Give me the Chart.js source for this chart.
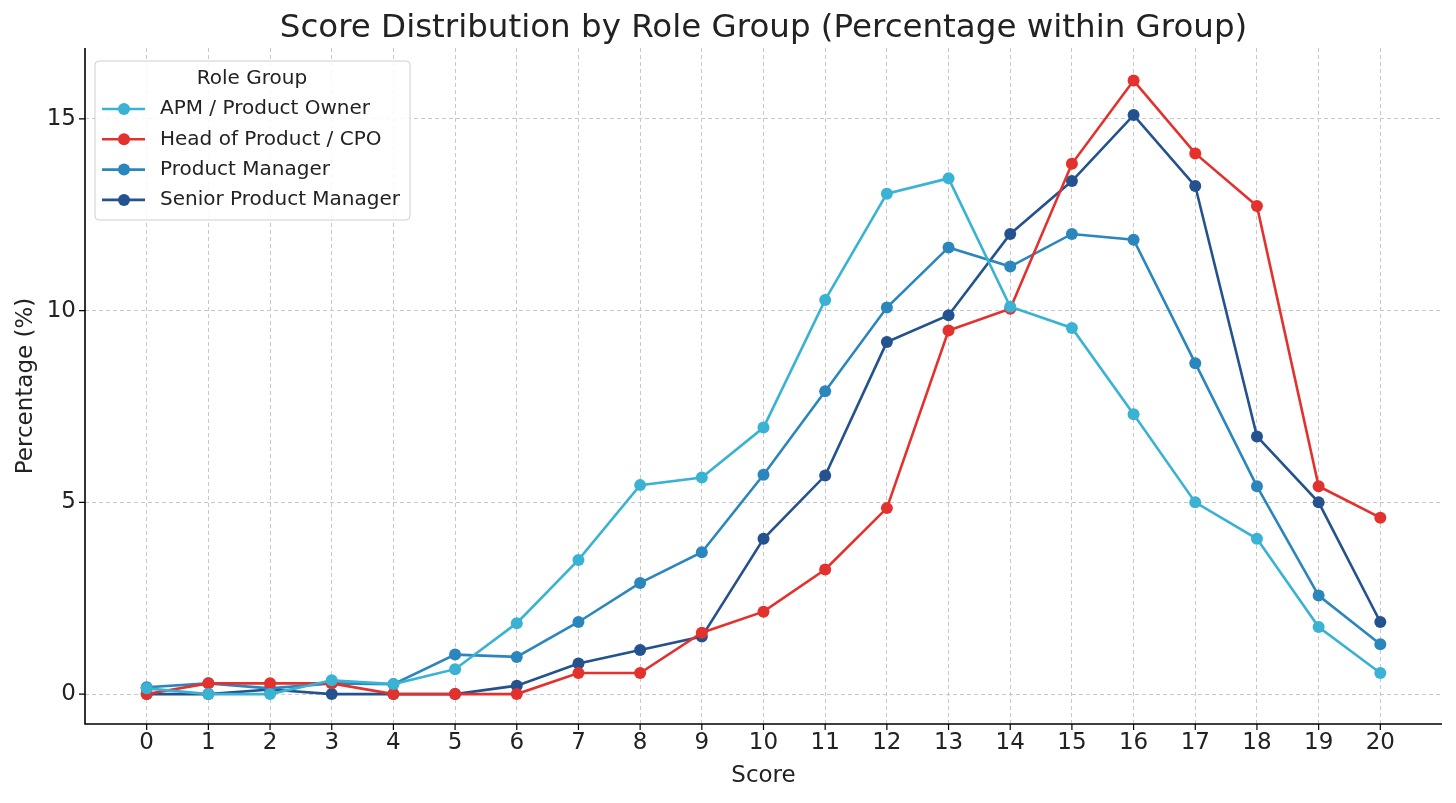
<!DOCTYPE html>
<html>
<head>
<meta charset="utf-8">
<script src="https://cdn.jsdelivr.net/npm/chart.js@4.4.0/dist/chart.umd.min.js"></script>
<style>
  html, body { margin: 0; padding: 0; background: #fff; }
  #wrap { width: 1456px; height: 803px; }
</style>
</head>
<body>
<div id="wrap"><canvas id="scoreChart"></canvas></div>
<script>
const scores = [0, 1, 2, 3, 4, 5, 6, 7, 8, 9, 10, 11, 12, 13, 14, 15, 16, 17, 18, 19, 20];
const yTicks = [0, 5, 10, 15];

const apmOwner = [0.15, 0.0, 0.0, 0.36, 0.26, 0.65, 1.85, 3.5, 5.45, 5.65, 6.95, 10.28, 13.05, 13.45, 10.1, 9.55, 7.3, 5.0, 4.05, 1.75, 0.55];
const headCpo = [0.0, 0.28, 0.28, 0.28, 0.0, 0.0, 0.0, 0.55, 0.55, 1.6, 2.15, 3.25, 4.85, 9.48, 10.05, 13.83, 16.0, 14.1, 12.73, 5.42, 4.6];
const productMgr = [0.18, 0.28, 0.15, 0.28, 0.26, 1.03, 0.97, 1.88, 2.9, 3.7, 5.72, 7.9, 10.08, 11.65, 11.15, 12.0, 11.85, 8.63, 5.42, 2.57, 1.3];
const seniorPm = [0.0, 0.0, 0.12, 0.0, 0.0, 0.0, 0.22, 0.8, 1.15, 1.5, 4.05, 5.7, 9.18, 9.88, 12.0, 13.38, 15.1, 13.25, 6.72, 5.0, 1.88];

const groups = ["APM / Product Owner", "Head of Product / CPO", "Product Manager", "Senior Product Manager"];
const colors = ["#3ab2d4", "#e3312d", "#2a86bd", "#23528f"];
const seriesList = [apmOwner, headCpo, productMgr, seniorPm];
const chartTitle = "Score Distribution by Role Group (Percentage within Group)";

const FONT = "'DejaVu Sans', sans-serif";

function makeDataset(i) {
    return {
        label: groups[i],
        data: scores.map((s, k) => ({ x: s, y: seriesList[i][k] })),
        borderColor: colors[i],
        backgroundColor: colors[i],
        borderWidth: 2.6,
        pointRadius: 6,
        pointHoverRadius: 6,
        pointBorderWidth: 0,
        tension: 0
    };
}

// spines + black tick marks, drawn by hand like matplotlib
const axesPlugin = {
    id: "axesPlugin",
    afterDatasetsDraw(chart) {
        const { ctx, chartArea } = chart;
        const xs = chart.scales.x, ys = chart.scales.y;
        ctx.save();
        ctx.strokeStyle = "#000";
        ctx.lineWidth = 1.6;
        ctx.setLineDash([]);
        ctx.beginPath();
        ctx.moveTo(chartArea.left, chartArea.top);
        ctx.lineTo(chartArea.left, chartArea.bottom);
        ctx.lineTo(chartArea.right, chartArea.bottom);
        ctx.stroke();
        ctx.lineWidth = 1.2;
        ctx.beginPath();
        scores.forEach(s => {
            const px = xs.getPixelForValue(s);
            ctx.moveTo(px, chartArea.bottom);
            ctx.lineTo(px, chartArea.bottom + 6);
        });
        yTicks.forEach(v => {
            const py = ys.getPixelForValue(v);
            ctx.moveTo(chartArea.left - 6, py);
            ctx.lineTo(chartArea.left, py);
        });
        ctx.stroke();

        // title centred over the plot area, not the canvas
        ctx.fillStyle = "#222";
        ctx.font = "32.5px " + FONT;
        ctx.textAlign = "center";
        ctx.textBaseline = "middle";
        ctx.fillText(chartTitle, (chartArea.left + chartArea.right) / 2, 29);
        ctx.restore();
    }
};

// legend box in the top-left corner of the plot
const legendPlugin = {
    id: "legendPlugin",
    afterDraw(chart) {
        const { ctx, chartArea } = chart;
        const x0 = chartArea.left + 10, y0 = chartArea.top + 13;
        const w = 315, h = 159;
        ctx.save();
        ctx.fillStyle = "rgba(255,255,255,0.85)";
        ctx.strokeStyle = "#cfcfcf";
        ctx.lineWidth = 1;
        ctx.beginPath();
        ctx.roundRect(x0, y0, w, h, 4);
        ctx.fill();
        ctx.stroke();
        ctx.fillStyle = "#222";
        ctx.font = "20px " + FONT;
        ctx.textAlign = "center";
        ctx.textBaseline = "middle";
        ctx.fillText("Role Group", x0 + 157, y0 + 18);
        ctx.textAlign = "left";
        chart.data.datasets.forEach((ds, i) => {
            const y = y0 + 48 + i * 30.3;
            ctx.strokeStyle = ds.borderColor;
            ctx.lineWidth = 2.6;
            ctx.beginPath();
            ctx.moveTo(x0 + 7, y);
            ctx.lineTo(x0 + 50, y);
            ctx.stroke();
            ctx.fillStyle = ds.backgroundColor;
            ctx.beginPath();
            ctx.arc(x0 + 29, y, 6, 0, Math.PI * 2);
            ctx.fill();
            ctx.fillStyle = "#222";
            ctx.fillText(ds.label, x0 + 65, y);
        });
        ctx.restore();
    }
};

const ctx = document.getElementById("scoreChart").getContext("2d");
new Chart(ctx, {
    type: "line",
    data: { datasets: groups.map((g, i) => makeDataset(i)) },
    options: {
        responsive: true,
        maintainAspectRatio: false,
        animation: false,
        layout: { padding: { left: 0, right: 14, top: 48, bottom: 0 } },
        plugins: {
            legend: { display: false },
            tooltip: { enabled: false },
            title: { display: false }
        },
        scales: {
            x: {
                type: "linear",
                min: -1,
                max: 21,
                afterBuildTicks(scale) { scale.ticks = scores.map(v => ({ value: v })); },
                afterFit(scale) { scale.height = 79; },
                ticks: { color: "#222", font: { family: FONT, size: 23 }, padding: 5, maxRotation: 0, autoSkip: false },
                grid: { color: "#c8c8c8", lineWidth: 1, drawTicks: false },
                border: { display: false, dash: [4, 3] },
                title: { display: true, text: "Score", color: "#222", font: { family: FONT, size: 23 }, padding: { top: 14, bottom: 13 } }
            },
            y: {
                min: -0.78,
                max: 16.85,
                afterBuildTicks(scale) { scale.ticks = yTicks.map(v => ({ value: v })); },
                afterFit(scale) { scale.width = 85; },
                ticks: { color: "#222", font: { family: FONT, size: 23 }, padding: 9 },
                grid: { color: "#c8c8c8", lineWidth: 1, drawTicks: false },
                border: { display: false, dash: [4, 3] },
                title: { display: true, text: "Percentage (%)", color: "#222", font: { family: FONT, size: 23 }, padding: { top: 12, bottom: 12 } }
            }
        }
    },
    plugins: [axesPlugin, legendPlugin]
});
</script>
</body>
</html>
